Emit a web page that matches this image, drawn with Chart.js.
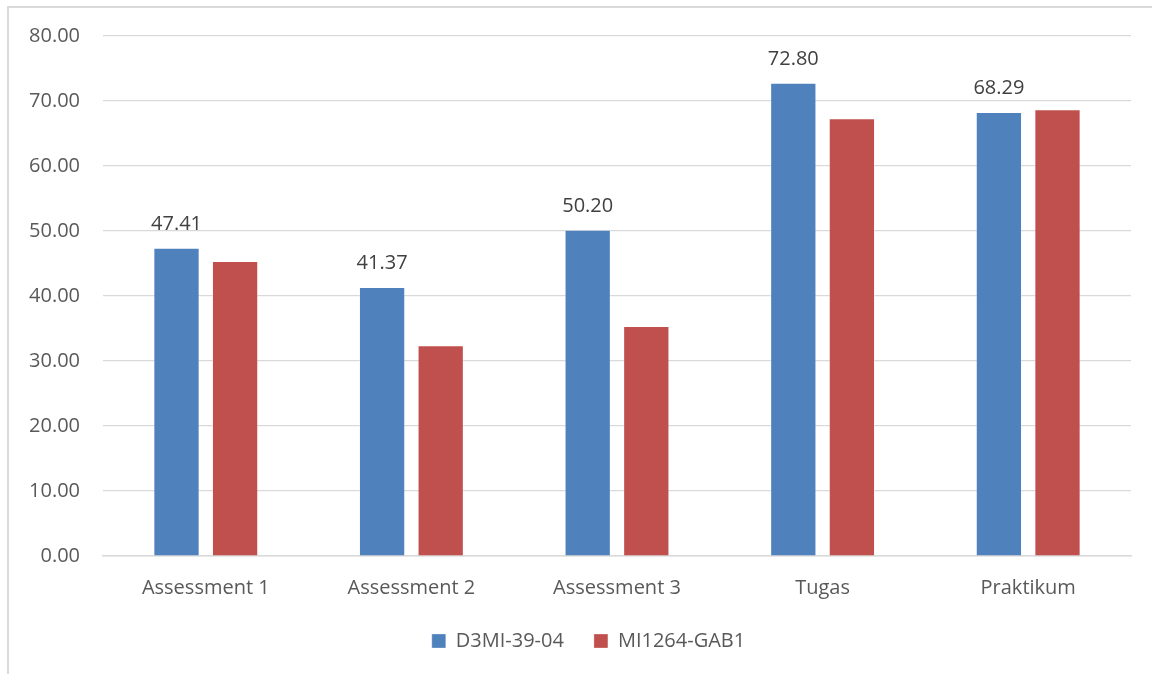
<!DOCTYPE html>
<html>
<head>
<meta charset="utf-8">
<script src="https://cdn.jsdelivr.net/npm/chart.js@4/dist/chart.umd.min.js"></script>
<style>
  html, body { margin: 0; padding: 0; background: #ffffff; overflow: hidden; }
  #frame {
    position: absolute; left: 7px; top: 6px; width: 1200px; height: 720px;
    border-top: 2px solid #d9d9d9; border-left: 2px solid #d9d9d9;
    box-sizing: border-box;
  }
  #wrap { position: absolute; left: 0; top: 0; width: 1152px; height: 674px; }
</style>
</head>
<body>
<div id="frame"></div>
<div id="wrap"><canvas id="chart"></canvas></div>
<script>
const categories = ['Assessment 1', 'Assessment 2', 'Assessment 3', 'Tugas', 'Praktikum'];
const seriesNames = ['D3MI-39-04', 'MI1264-GAB1'];
const classA = [47.41, 41.37, 50.20, 72.80, 68.29];
const classB = [45.40, 32.41, 35.40, 67.35, 68.72];
const yTicks = [0, 10, 20, 30, 40, 50, 60, 70, 80];

const FONT = "'Open Sans', 'Noto Sans', sans-serif";

// Value labels above the first series' bars
const valueLabels = {
  id: 'valueLabels',
  afterDatasetsDraw(chart) {
    const { ctx } = chart;
    const meta = chart.getDatasetMeta(0);
    const data = chart.data.datasets[0].data;
    ctx.save();
    ctx.font = '20px ' + FONT;
    ctx.fillStyle = '#404040';
    ctx.textAlign = 'center';
    ctx.textBaseline = 'alphabetic';
    meta.data.forEach((bar, i) => {
      ctx.fillText(data[i].toFixed(2), bar.x, bar.y - 18);
    });
    ctx.restore();
  }
};

// Centre the legend within the framed region rather than the full canvas
const legendOffset = {
  id: 'legendOffset',
  afterLayout(chart) {
    if (chart.legend) {
      chart.legend.left += 46;
    }
  }
};

new Chart(document.getElementById('chart'), {
  type: 'bar',
  data: {
    labels: categories,
    datasets: [
      {
        label: seriesNames[0],
        data: classA,
        backgroundColor: '#4F81BD',
        borderColor: 'rgba(255,255,255,0.3)',
        borderWidth: 1,
        categoryPercentage: 0.57,
        barPercentage: 0.79
      },
      {
        label: seriesNames[1],
        data: classB,
        backgroundColor: '#C0504D',
        borderColor: 'rgba(255,255,255,0.3)',
        borderWidth: 1,
        categoryPercentage: 0.57,
        barPercentage: 0.79
      }
    ]
  },
  options: {
    responsive: true,
    maintainAspectRatio: false,
    animation: false,
    layout: { padding: { left: 0, right: 21, top: 36, bottom: 13 } },
    plugins: {
      tooltip: { enabled: false },
      legend: {
        position: 'bottom',
        labels: {
          boxWidth: 14,
          boxHeight: 14,
          padding: 30,
          color: '#595959',
          font: { family: FONT, size: 20 }
        }
      }
    },
    scales: {
      x: {
        grid: { display: false, drawTicks: false },
        border: { display: true, color: '#d9d9d9', width: 1.5 },
        ticks: {
          padding: 20,
          color: '#595959',
          font: { family: FONT, size: 20 }
        },
        afterFit(scale) { scale.height = 45; }
      },
      y: {
        min: yTicks[0],
        max: yTicks[yTicks.length - 1],
        afterBuildTicks(scale) { scale.ticks = yTicks.map(v => ({ value: v })); },
        grid: { color: '#d9d9d9', lineWidth: 1.2, drawTicks: false },
        border: { display: false },
        ticks: {
          padding: 23,
          color: '#595959',
          font: { family: FONT, size: 20 },
          callback: v => Number(v).toFixed(2)
        },
        afterFit(scale) { scale.width = 103; }
      }
    }
  },
  plugins: [valueLabels, legendOffset]
});
</script>
</body>
</html>
